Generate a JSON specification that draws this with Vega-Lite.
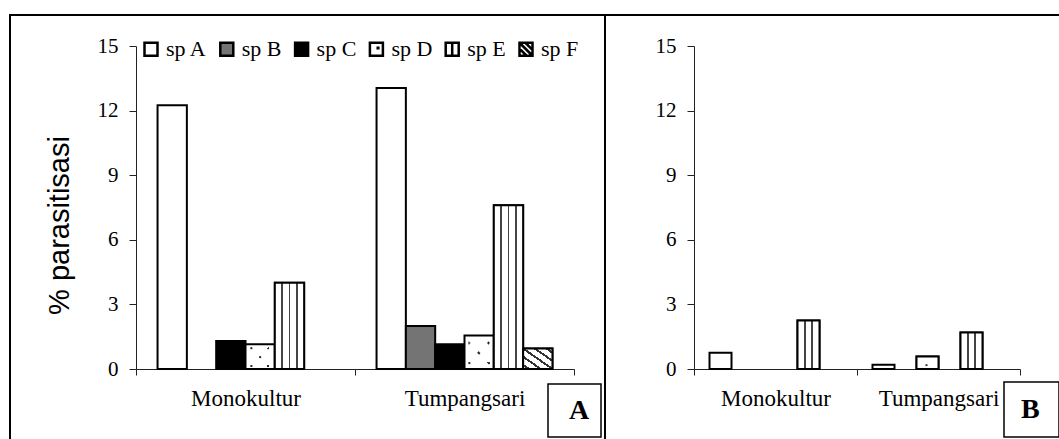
{
  "$schema": "https://vega.github.io/schema/vega-lite/v6.json",
  "padding": {"left": 9, "top": 14, "right": 0, "bottom": 0},
  "background": "white",
  "spacing": 0,
  "bounds": "flush",
  "config": {
    "view": {"stroke": "black", "strokeWidth": 2},
    "font": "Liberation Serif",
    "axis": {"labelFont": "Liberation Serif", "labelColor": "black", "domainColor": "#222", "tickColor": "#222", "domainWidth": 1, "tickWidth": 1, "grid": false, "titleColor": "black"}
  },
  "datasets": {
    "bars": [
      {"panel": "A", "lokasi": "Monokultur", "sp": "sp A", "nilai": 12.25},
      {"panel": "A", "lokasi": "Monokultur", "sp": "sp C", "nilai": 1.3},
      {"panel": "A", "lokasi": "Monokultur", "sp": "sp D", "nilai": 1.15},
      {"panel": "A", "lokasi": "Monokultur", "sp": "sp E", "nilai": 4.0},
      {"panel": "A", "lokasi": "Tumpangsari", "sp": "sp A", "nilai": 13.05},
      {"panel": "A", "lokasi": "Tumpangsari", "sp": "sp B", "nilai": 2.0},
      {"panel": "A", "lokasi": "Tumpangsari", "sp": "sp C", "nilai": 1.15},
      {"panel": "A", "lokasi": "Tumpangsari", "sp": "sp D", "nilai": 1.55},
      {"panel": "A", "lokasi": "Tumpangsari", "sp": "sp E", "nilai": 7.6},
      {"panel": "A", "lokasi": "Tumpangsari", "sp": "sp F", "nilai": 0.95},
      {"panel": "B", "lokasi": "Monokultur", "sp": "sp A", "nilai": 0.75},
      {"panel": "B", "lokasi": "Monokultur", "sp": "sp E", "nilai": 2.25},
      {"panel": "B", "lokasi": "Tumpangsari", "sp": "sp A", "nilai": 0.2},
      {"panel": "B", "lokasi": "Tumpangsari", "sp": "sp D", "nilai": 0.58},
      {"panel": "B", "lokasi": "Tumpangsari", "sp": "sp E", "nilai": 1.7}
    ]
  },
  "hconcat": [
    {
      "width": 595,
      "height": 425,
      "data": {"name": "bars"},
      "transform": [{"filter": "datum.panel === 'A'"}],
      "encoding": {
        "x": {"field": "lokasi", "type": "nominal", "sort": ["Monokultur", "Tumpangsari"],
          "scale": {"domain": ["Monokultur", "Tumpangsari"], "range": [126, 564], "paddingInner": 0, "paddingOuter": 0},
          "axis": {"title": null, "offset": -71, "tickBand": "extent", "tickSize": 6, "labelAngle": 0, "labelFontSize": 23, "labelPadding": 12}},
        "xOffset": {"field": "sp", "type": "nominal",
          "scale": {"domain": ["sp A", "sp B", "sp C", "sp D", "sp E", "sp F"], "paddingInner": 0, "paddingOuter": 0.735}},
        "y": {"field": "nilai", "type": "quantitative",
          "scale": {"domain": [0, 15], "range": [354, 31], "nice": false, "zero": true},
          "axis": {"title": "% parasitisasi", "titleFont": "Liberation Sans", "titleFontSize": 29, "titleFontWeight": "normal", "titlePadding": 23, "titleY": 210, "offset": -126, "values": [0, 3, 6, 9, 12, 15], "tickSize": 7, "labelFontSize": 21, "labelPadding": 11}}
      },
      "layer": [
        {
          "mark": {"type": "bar", "stroke": "black", "strokeWidth": 2},
          "encoding": {
            "fill": {"field": "sp", "type": "nominal",
              "scale": {"domain": ["sp A", "sp B", "sp C", "sp D", "sp E", "sp F"], "range": ["white", "#747474", "black", "white", "white", "white"]},
              "legend": {"title": null, "orient": "none", "legendX": 130, "legendY": 23, "direction": "horizontal", "symbolType": "square", "symbolSize": 169, "symbolStrokeColor": "black", "symbolStrokeWidth": 2.5, "labelFont": "Liberation Serif", "labelFontSize": 22, "labelColor": "black", "labelOffset": 4, "columnPadding": 7.8, "padding": 0,
                "encode": {"symbols": {"update": {
                  "stroke": {"value": "black"},
                  "strokeWidth": {"value": 2.5},
                  "shape": [
                    {"test": "datum.value === 'sp D'", "value": "M-1,-1H1V1H-1Z M0.2,-0.25h0.1v0.1h-0.1Z"},
                    {"test": "datum.value === 'sp E'", "value": "M-1,-1H1V1H-1Z M0,-1V1"},
                    {"test": "datum.value === 'sp F'", "value": "M-1,-1H1V1H-1Z M-1,-1L1,1 M-0.1,-1L1,0.1 M-1,-0.1L0.1,1"},
                    {"value": "square"}
                  ]
                }}}}
            }
          }
        },
        {
          "transform": [{"filter": "datum.sp === 'sp E'"}],
          "mark": {"type": "bar", "stroke": "black", "strokeWidth": 2,
            "fill": {"gradient": "linear", "x1": 0, "y1": 0, "x2": 1, "y2": 0, "stops": [{"offset": 0, "color": "white"}, {"offset": 0.22, "color": "white"}, {"offset": 0.22, "color": "#444"}, {"offset": 0.28, "color": "#444"}, {"offset": 0.28, "color": "white"}, {"offset": 0.47, "color": "white"}, {"offset": 0.47, "color": "#444"}, {"offset": 0.53, "color": "#444"}, {"offset": 0.53, "color": "white"}, {"offset": 0.72, "color": "white"}, {"offset": 0.72, "color": "#444"}, {"offset": 0.78, "color": "#444"}, {"offset": 0.78, "color": "white"}, {"offset": 1, "color": "white"}]}}
        },
        {
          "transform": [{"filter": "datum.sp === 'sp F'"}],
          "mark": {"type": "bar", "stroke": "black", "strokeWidth": 2,
            "fill": {"gradient": "linear", "x1": 0, "y1": 1, "x2": 1, "y2": 0, "stops": [{"offset": 0, "color": "white"}, {"offset": 0.07, "color": "white"}, {"offset": 0.07, "color": "#333"}, {"offset": 0.13, "color": "#333"}, {"offset": 0.13, "color": "white"}, {"offset": 0.27, "color": "white"}, {"offset": 0.27, "color": "#333"}, {"offset": 0.33, "color": "#333"}, {"offset": 0.33, "color": "white"}, {"offset": 0.47, "color": "white"}, {"offset": 0.47, "color": "#333"}, {"offset": 0.53, "color": "#333"}, {"offset": 0.53, "color": "white"}, {"offset": 0.67, "color": "white"}, {"offset": 0.67, "color": "#333"}, {"offset": 0.73, "color": "#333"}, {"offset": 0.73, "color": "white"}, {"offset": 0.87, "color": "white"}, {"offset": 0.87, "color": "#333"}, {"offset": 0.93, "color": "#333"}, {"offset": 0.93, "color": "white"}, {"offset": 1, "color": "white"}]}}
        },
        {
          "transform": [{"filter": "datum.sp === 'sp D'"}],
          "mark": {"type": "bar", "strokeWidth": 0,
            "fill": {"gradient": "radial", "x1": 0.2, "y1": 0.22, "r1": 0, "x2": 0.2, "y2": 0.22, "r2": 0.06, "stops": [{"offset": 0, "color": "#222"}, {"offset": 0.6, "color": "#222"}, {"offset": 0.6, "color": "rgba(255,255,255,0)"}, {"offset": 1, "color": "rgba(255,255,255,0)"}]}}
        },
        {
          "transform": [{"filter": "datum.sp === 'sp D'"}],
          "mark": {"type": "bar", "strokeWidth": 0,
            "fill": {"gradient": "radial", "x1": 0.78, "y1": 0.22, "r1": 0, "x2": 0.78, "y2": 0.22, "r2": 0.06, "stops": [{"offset": 0, "color": "#222"}, {"offset": 0.6, "color": "#222"}, {"offset": 0.6, "color": "rgba(255,255,255,0)"}, {"offset": 1, "color": "rgba(255,255,255,0)"}]}}
        },
        {
          "transform": [{"filter": "datum.sp === 'sp D'"}],
          "mark": {"type": "bar", "strokeWidth": 0,
            "fill": {"gradient": "radial", "x1": 0.49, "y1": 0.52, "r1": 0, "x2": 0.49, "y2": 0.52, "r2": 0.06, "stops": [{"offset": 0, "color": "#222"}, {"offset": 0.6, "color": "#222"}, {"offset": 0.6, "color": "rgba(255,255,255,0)"}, {"offset": 1, "color": "rgba(255,255,255,0)"}]}}
        },
        {
          "transform": [{"filter": "datum.sp === 'sp D'"}],
          "mark": {"type": "bar", "strokeWidth": 0,
            "fill": {"gradient": "radial", "x1": 0.2, "y1": 0.82, "r1": 0, "x2": 0.2, "y2": 0.82, "r2": 0.06, "stops": [{"offset": 0, "color": "#222"}, {"offset": 0.6, "color": "#222"}, {"offset": 0.6, "color": "rgba(255,255,255,0)"}, {"offset": 1, "color": "rgba(255,255,255,0)"}]}}
        },
        {
          "transform": [{"filter": "datum.sp === 'sp D'"}],
          "mark": {"type": "bar", "strokeWidth": 0,
            "fill": {"gradient": "radial", "x1": 0.78, "y1": 0.82, "r1": 0, "x2": 0.78, "y2": 0.82, "r2": 0.06, "stops": [{"offset": 0, "color": "#222"}, {"offset": 0.6, "color": "#222"}, {"offset": 0.6, "color": "rgba(255,255,255,0)"}, {"offset": 1, "color": "rgba(255,255,255,0)"}]}}
        },
        {
          "mark": {"type": "point", "opacity": 0},
          "encoding": {
            "shape": {"datum": "A", "scale": {"range": ["square"]}, "legend": {"title": null, "orient": "none", "legendX": 537, "legendY": 368, "symbolSize": 2809, "symbolFillColor": "white", "symbolStrokeColor": "black", "symbolStrokeWidth": 1.5, "symbolOpacity": 1, "labelFont": "Liberation Serif", "labelFontSize": 28, "labelFontWeight": "bold", "labelColor": "black", "labelOffset": -33, "padding": 0,
              "encode": {"symbols": {"update": {"shape": {"value": "square"}, "stroke": {"value": "black"}, "strokeWidth": {"value": 1.5}, "fill": {"value": "white"}, "opacity": {"value": 1}}}}}}
          }
        }
      ]
    },
    {
      "width": 455,
      "height": 425,
      "data": {"name": "bars"},
      "transform": [{"filter": "datum.panel === 'B'"}],
      "encoding": {
        "x": {"field": "lokasi", "type": "nominal", "sort": ["Monokultur", "Tumpangsari"],
          "scale": {"domain": ["Monokultur", "Tumpangsari"], "range": [89, 415], "paddingInner": 0, "paddingOuter": 0},
          "axis": {"title": null, "offset": -71, "tickBand": "extent", "tickSize": 6, "labelAngle": 0, "labelFontSize": 23, "labelPadding": 12}},
        "xOffset": {"field": "sp", "type": "nominal",
          "scale": {"domain": ["sp A", "sp B", "sp D", "sp C", "sp E", "sp F"], "paddingInner": 0, "paddingOuter": 0.705}},
        "y": {"field": "nilai", "type": "quantitative",
          "scale": {"domain": [0, 15], "range": [354, 31], "nice": false, "zero": true},
          "axis": {"title": null, "offset": -89, "values": [0, 3, 6, 9, 12, 15], "tickSize": 7, "labelFontSize": 21, "labelPadding": 11}}
      },
      "layer": [
        {
          "mark": {"type": "bar", "stroke": "black", "strokeWidth": 2},
          "encoding": {
            "fill": {"field": "sp", "type": "nominal",
              "scale": {"domain": ["sp A", "sp B", "sp C", "sp D", "sp E", "sp F"], "range": ["white", "#747474", "black", "white", "white", "white"]},
              "legend": null}
          }
        },
        {
          "transform": [{"filter": "datum.sp === 'sp E'"}],
          "mark": {"type": "bar", "stroke": "black", "strokeWidth": 2,
            "fill": {"gradient": "linear", "x1": 0, "y1": 0, "x2": 1, "y2": 0, "stops": [{"offset": 0, "color": "white"}, {"offset": 0.29, "color": "white"}, {"offset": 0.29, "color": "#444"}, {"offset": 0.37, "color": "#444"}, {"offset": 0.37, "color": "white"}, {"offset": 0.63, "color": "white"}, {"offset": 0.63, "color": "#444"}, {"offset": 0.71, "color": "#444"}, {"offset": 0.71, "color": "white"}, {"offset": 1, "color": "white"}]}}
        },
        {
          "transform": [{"filter": "datum.sp === 'sp D'"}],
          "mark": {"type": "bar", "stroke": "black", "strokeWidth": 2,
            "fill": {"gradient": "radial", "x1": 0.45, "y1": 0.62, "r1": 0, "x2": 0.45, "y2": 0.62, "r2": 0.08, "stops": [{"offset": 0, "color": "#333"}, {"offset": 0.6, "color": "#333"}, {"offset": 0.6, "color": "white"}, {"offset": 1, "color": "white"}]}}
        },
        {
          "mark": {"type": "point", "opacity": 0},
          "encoding": {
            "shape": {"datum": "B", "scale": {"range": ["square"]}, "legend": {"title": null, "orient": "none", "legendX": 398, "legendY": 366, "symbolSize": 3025, "symbolFillColor": "white", "symbolStrokeColor": "black", "symbolStrokeWidth": 1.5, "symbolOpacity": 1, "labelFont": "Liberation Serif", "labelFontSize": 28, "labelFontWeight": "bold", "labelColor": "black", "labelOffset": -39, "padding": 0,
              "encode": {"symbols": {"update": {"shape": {"value": "square"}, "stroke": {"value": "black"}, "strokeWidth": {"value": 1.5}, "fill": {"value": "white"}, "opacity": {"value": 1}}}}}}
          }
        }
      ]
    }
  ],
  "resolve": {
    "scale": {"x": "independent", "y": "independent", "xOffset": "independent", "fill": "independent", "shape": "independent"},
    "legend": {"fill": "independent", "shape": "independent"}
  }
}
